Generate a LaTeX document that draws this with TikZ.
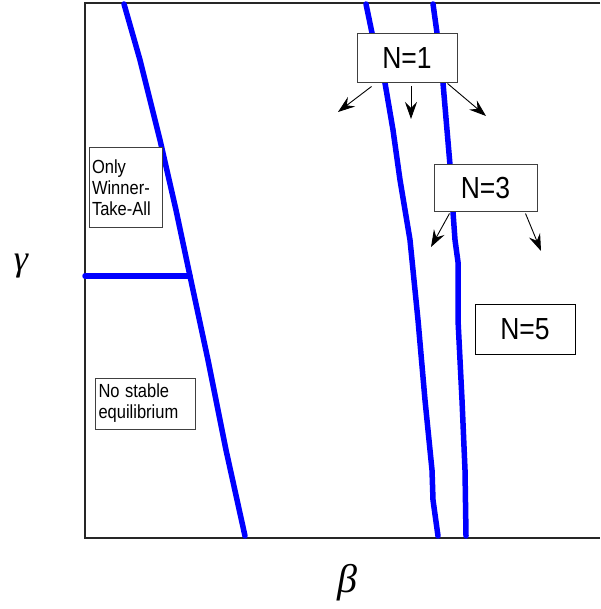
\documentclass[tikz,border=0pt]{standalone}
\usepackage{fontspec}
\setmainfont{Liberation Sans}
\newfontfamily\grk{Liberation Serif}
\usetikzlibrary{arrows.meta}
\newcommand{\tall}[1]{\scalebox{1}[1.15]{#1}}
\begin{document}
\begin{tikzpicture}[x=1pt,y=-1pt,
  curve/.style={draw=blue,line width=5.5pt,line join=round,line cap=round},
  bigbox/.style={draw=black!75,fill=white,line width=1pt,minimum width=100pt,minimum height=49pt,inner sep=0pt,font=\fontsize{26.5}{30}\selectfont},
  smallbox/.style={draw=black!75,fill=white,line width=1pt,inner sep=0pt,align=left,font=\fontsize{16.5}{21}\selectfont},
  arr/.style={line width=0.9pt,-{Stealth[length=17pt,width=12pt,inset=6pt]}}]
\useasboundingbox (0,0) rectangle (600,609);
% frame
\draw[line width=1.6pt,black!85] (600,3) -- (85,3) -- (85,538) -- (600,538);
% curves
\draw[curve] (124,4) -- (140,60) -- (160,140) -- (176,210) -- (190,276) -- (208,360) -- (226,450) -- (245,536);
\draw[curve] (85,276) -- (190,276);
\draw[curve] (366,4) -- (372,33) -- (379,60) -- (385,83) -- (393,130) -- (400,180) -- (410,240) -- (418,320) -- (425,400) -- (432,470) -- (433,500) -- (438,536);
\draw[curve] (433,4) -- (437,33) -- (443,83) -- (447,130) -- (450,165) -- (453,212) -- (455,240) -- (458,262) -- (458,320) -- (462,400) -- (465,470) -- (466,536);
% boxes
\node[bigbox] (n1) at (407,58.5) {\tall{N=1}};
\node[bigbox,minimum width=103pt,minimum height=47pt] (n3) at (485.5,188.5) {\tall{N=3}};
\node[bigbox,draw=black,minimum width=100pt,minimum height=50pt] (n5) at (525,329) {\tall{N=5}};
\node[smallbox,minimum width=73pt,minimum height=80pt,text width=67pt] (wta) at (125.5,188) {\tall{Only}\\\tall{Winner-}\\\tall{Take-All}};
\node[smallbox,minimum width=100pt,minimum height=51pt,text width=93pt] (nse) at (145,403.5) {\tall{No stable}\\\tall{equilibrium}};
% arrows
\coordinate (a1) at (338,112);
\coordinate (a2) at (411,119);
\coordinate (a3) at (486,116);
\coordinate (b1) at (431,247);
\coordinate (b2) at (541,251);
\draw[arr] ([xshift=15pt]n1.south west) ++(0,3) -- (a1);
\draw[arr] (n1.south) ++(4,3) -- (a2);
\draw[arr] (n1.south east) ++(-10,0) -- (a3);
\draw[arr] ([xshift=16pt]n3.south west) ++(0,1) -- (b1);
\draw[arr] ([xshift=-12pt]n3.south east) ++(0,1) -- (b2);
% axis labels
\node[font=\grk\itshape\fontsize{36}{40}\selectfont] (g) at (21,266) {γ};
\node[font=\grk\itshape\fontsize{40}{44}\selectfont] (b) at (347,583) {β};
\end{tikzpicture}
\end{document}
